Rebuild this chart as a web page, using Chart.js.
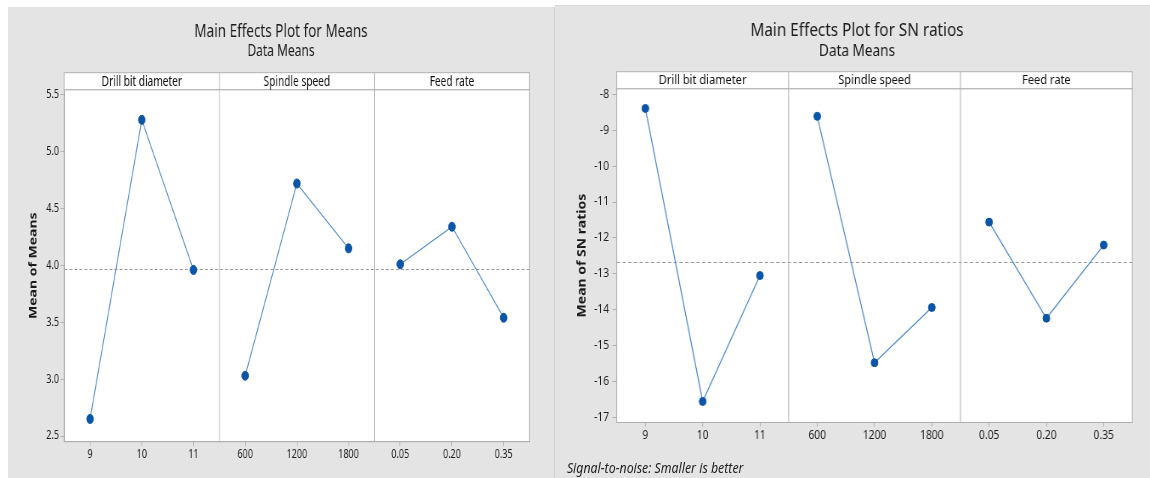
<!DOCTYPE html>
<html>
<head>
<meta charset="utf-8">
<script src="https://cdn.jsdelivr.net/npm/chart.js@4.4.1/dist/chart.umd.min.js"></script>
<style>
  html, body { margin: 0; padding: 0; background: #ffffff; width: 1150px; height: 478px; overflow: hidden; }
  .bg { position: absolute; background: #e4e4e4; }
  #bgL { left: 8px; top: 7px; width: 546px; height: 471px; border-right: 1px solid #d0d0d0; }
  #bgR { left: 555px; top: 5px; width: 595px; height: 473px; border-top: 1px solid #d6d6d6; }
  .sq { position: absolute; left: 0; top: 0; transform-origin: 0 0; }
  #sqL { width: 728px; height: 471px; transform: scaleX(0.75); }
  #sqR { width: 700px; height: 473px; top: -1px; transform: scaleX(0.85); }
  .foot { position: absolute; left: 14px; top: 452px; font: italic 14.5px "Noto Sans", sans-serif; color: #222; white-space: nowrap; }
</style>
</head>
<body>
<div class="bg" id="bgL"><div class="sq" id="sqL"><canvas id="cL" width="728" height="471"></canvas></div></div>
<div class="bg" id="bgR"><div class="sq" id="sqR"><canvas id="cR" width="700" height="473"></canvas>
  <div class="foot">Signal-to-noise: Smaller is better</div></div></div>
<script>
// ---- data ----
const factors = ['Drill bit diameter', 'Spindle speed', 'Feed rate'];
const drillLevels = ['9', '10', '11'];
const speedLevels = ['600', '1200', '1800'];
const feedLevels = ['0.05', '0.20', '0.35'];

const drillMeans = [2.65, 5.28, 3.96];
const speedMeans = [3.03, 4.72, 4.15];
const feedMeans = [4.01, 4.34, 3.54];

const drillSN = [-8.39, -16.56, -13.05];
const speedSN = [-8.61, -15.48, -13.94];
const feedSN = [-11.56, -14.24, -12.20];

const meansTickValues = [2.5, 3.0, 3.5, 4.0, 4.5, 5.0, 5.5];
const meansTickLabels = ['2.5', '3.0', '3.5', '4.0', '4.5', '5.0', '5.5'];
const snTickValues = [-17, -16, -15, -14, -13, -12, -11, -10, -9, -8];
const snTickLabels = ['-17', '-16', '-15', '-14', '-13', '-12', '-11', '-10', '-9', '-8'];

const FONT = '"Noto Sans", "Open Sans", sans-serif';
const FRAME = '#b0b0b0';
const LINE = '#4a89cc';
const DOT = '#0b55a8';
const TXT = '#1e1e1e';

const labels = [...drillLevels, ...speedLevels, ...feedLevels];

function seriesFor(vals, panel) {
  const arr = new Array(labels.length).fill(null);
  vals.forEach((v, i) => { arr[panel * 3 + i] = v; });
  return arr;
}

function makePanelPlugin(headFont) {
  return {
    id: 'panels',
    beforeDraw(chart) {
      const { ctx, chartArea: a } = chart;
      ctx.save();
      ctx.fillStyle = '#ffffff';
      ctx.fillRect(a.left, a.top, a.right - a.left, a.bottom - a.top);
      ctx.restore();
    },
    beforeDatasetsDraw(chart) {
      const { ctx, chartArea: a, scales } = chart;
      const xs = scales.x, ys = scales.y;
      let sum = 0, n = 0;
      chart.data.datasets.forEach(ds => ds.data.forEach(v => { if (v !== null) { sum += v; n++; } }));
      const yM = Math.round(ys.getPixelForValue(sum / n)) + 0.5;
      ctx.save();
      ctx.strokeStyle = '#9a9a9a';
      ctx.lineWidth = 1;
      ctx.setLineDash([4, 2.7]);
      ctx.beginPath(); ctx.moveTo(a.left, yM); ctx.lineTo(a.right, yM); ctx.stroke();
      ctx.setLineDash([]);
      ctx.strokeStyle = FRAME;
      for (let k = 1; k < factors.length; k++) {
        const x = (xs.getPixelForValue(3 * k - 1) + xs.getPixelForValue(3 * k)) / 2;
        ctx.beginPath(); ctx.moveTo(x, a.top - 17); ctx.lineTo(x, a.bottom); ctx.stroke();
      }
      ctx.strokeRect(a.left, a.top, a.right - a.left, a.bottom - a.top);
      ctx.restore();
    },
    afterDraw(chart) {
      const { ctx, chartArea: a, scales } = chart;
      const xs = scales.x;
      const h = 17;
      ctx.save();
      ctx.fillStyle = '#ffffff';
      ctx.fillRect(a.left, a.top - h, a.right - a.left, h);
      ctx.strokeStyle = FRAME;
      ctx.lineWidth = 1;
      ctx.strokeRect(a.left, a.top - h, a.right - a.left, h);
      for (let k = 1; k < factors.length; k++) {
        const x = (xs.getPixelForValue(3 * k - 1) + xs.getPixelForValue(3 * k)) / 2;
        ctx.beginPath(); ctx.moveTo(x, a.top - h); ctx.lineTo(x, a.top); ctx.stroke();
      }
      ctx.fillStyle = '#111111';
      ctx.font = headFont + 'px ' + FONT;
      ctx.textAlign = 'center';
      ctx.textBaseline = 'middle';
      factors.forEach((f, k) => {
        ctx.fillText(f, xs.getPixelForValue(3 * k + 1), a.top - h / 2 + 0.5);
      });
      ctx.restore();
    }
  };
}

function makeChart(id, o) {
  const datasets = o.series.map((vals, p) => ({
    data: seriesFor(vals, p),
    borderColor: LINE,
    borderWidth: 1.2,
    pointRadius: o.dot,
    pointHoverRadius: o.dot,
    pointBackgroundColor: DOT,
    pointBorderColor: DOT,
    pointBorderWidth: 1,
    spanGaps: false,
    tension: 0
  }));
  return new Chart(document.getElementById(id), {
    type: 'line',
    data: { labels, datasets },
    plugins: [makePanelPlugin(o.headFont)],
    options: {
      responsive: false,
      animation: false,
      events: [],
      layout: { padding: { left: o.padLeft, right: 0, top: 0, bottom: 0 } },
      plugins: {
        legend: { display: false },
        tooltip: { enabled: false },
        title: {
          display: true, text: o.title, color: '#1a1a1a',
          font: { family: FONT, size: 18, weight: 'normal' },
          padding: { top: o.titleTop, bottom: 0 }
        },
        subtitle: {
          display: true, text: 'Data Means', color: '#1a1a1a',
          font: { family: FONT, size: 16, weight: 'normal' },
          padding: { top: 0, bottom: o.subBottom }
        }
      },
      scales: {
        x: {
          type: 'category', offset: true,
          grid: { display: true, drawOnChartArea: false, offset: false, tickLength: 4, color: FRAME },
          border: { display: true, color: FRAME },
          ticks: { padding: 2, color: TXT, font: { family: FONT, size: 12 }, maxRotation: 0, autoSkip: false },
          afterFit(s) { s.height = o.xHeight; }
        },
        y: {
          type: 'linear', min: o.min, max: o.max,
          afterBuildTicks(s) { s.ticks = o.tickValues.map(v => ({ value: v })); },
          grid: { display: true, drawOnChartArea: false, tickLength: o.yTick, color: FRAME },
          border: { display: true, color: FRAME },
          ticks: {
            padding: o.yPad, color: TXT, font: { family: FONT, size: 12 },
            callback: (v, i) => o.tickLabels[i]
          },
          title: {
            display: true, text: o.yTitle, color: '#1a1a1a',
            font: { family: FONT, size: 14, weight: 'bold' },
            padding: { top: o.yTitlePad, bottom: 0 }
          },
          afterFit(s) { s.width = o.yWidth; }
        },
        y2: {
          type: 'linear', position: 'right', display: true,
          grid: { display: false }, border: { display: false }, ticks: { display: false },
          afterFit(s) { s.width = o.rightGap; }
        }
      }
    }
  });
}

makeChart('cL', {
  series: [drillMeans, speedMeans, feedMeans],
  title: 'Main Effects Plot for Means',
  yTitle: 'Mean of Means',
  tickValues: meansTickValues, tickLabels: meansTickLabels,
  min: 2.45, max: 5.545,
  padLeft: 0, yWidth: 75, rightGap: 32.7,
  titleTop: 13.7, subBottom: 28.2, xHeight: 36.3,
  yTick: 5, yPad: 2, yTitlePad: 26, headFont: 13.5, dot: 4.5
});

makeChart('cR', {
  series: [drillSN, speedSN, feedSN],
  title: 'Main Effects Plot for SN ratios',
  yTitle: 'Mean of SN ratios',
  tickValues: snTickValues, tickLabels: snTickLabels,
  min: -17.147, max: -7.84,
  padLeft: 10.6, yWidth: 62, rightGap: 20.8,
  titleTop: 15.2, subBottom: 27.7, xHeight: 55.5,
  yTick: 5, yPad: 4, yTitlePad: 12.8, headFont: 13, dot: 4
});
</script>
</body>
</html>
